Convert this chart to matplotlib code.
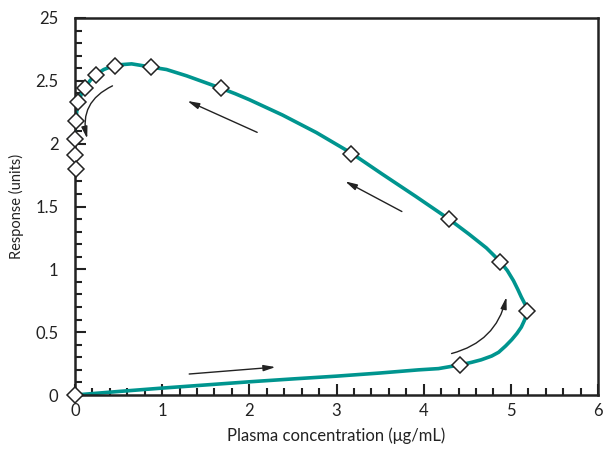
import matplotlib
matplotlib.use("Agg")
import matplotlib.pyplot as plt
from matplotlib.ticker import MultipleLocator

plt.rcParams["font.family"] = ["Lato", "DejaVu Sans"]

# fitted hysteresis loop (counter-clockwise)
curve_x = [0.0, 0.5, 1.0, 1.5, 2.0, 2.5, 3.0, 3.5, 3.94, 4.17, 4.42, 4.55,
           4.66, 4.78, 4.86, 4.94, 5.01, 5.07, 5.12, 5.16, 5.19, 5.18, 5.15,
           5.12, 5.08, 5.03, 4.96, 4.88, 4.72, 4.52, 4.29, 3.91, 3.52, 3.17,
           2.77, 2.38, 2.0, 1.84, 1.68, 1.28, 1.05, 0.87, 0.65, 0.46, 0.33,
           0.24, 0.17, 0.11, 0.07, 0.04, 0.02, 0.01, 0.0]
curve_y = [0.0, 0.028, 0.055, 0.08, 0.105, 0.128, 0.15, 0.175, 0.20, 0.21,
           0.24, 0.26, 0.28, 0.31, 0.34, 0.39, 0.44, 0.49, 0.54, 0.60, 0.67,
           0.70, 0.74, 0.78, 0.84, 0.91, 0.99, 1.06, 1.17, 1.28, 1.40, 1.58,
           1.76, 1.925, 2.088, 2.228, 2.35, 2.397, 2.44, 2.54, 2.59, 2.61,
           2.635, 2.625, 2.59, 2.55, 2.50, 2.44, 2.39, 2.33, 2.26, 2.18, 2.10]

# observed points
obs_x = [0.0, 4.42, 5.19, 4.88, 4.29, 3.17, 1.68, 0.87, 0.46, 0.24, 0.11,
         0.04, 0.01, 0.0, 0.0, 0.01]
obs_y = [0.0, 0.24, 0.67, 1.06, 1.40, 1.92, 2.44, 2.61, 2.62, 2.55, 2.44,
         2.33, 2.18, 2.04, 1.91, 1.80]

# direction arrows: (tail, head, curvature)
arrows = [
    ((1.31, 0.167), (2.30, 0.222), 0.0),
    ((4.32, 0.33), (4.95, 0.78), 0.3),
    ((3.75, 1.46), (3.10, 1.70), 0.0),
    ((2.09, 2.09), (1.29, 2.34), 0.0),
    ((0.43, 2.46), (0.14, 2.04), 0.4),
]

ytick_vals = [0, 0.5, 1, 1.5, 2, 2.5, 3]
ytick_labels = ["0", "0.5", "1", "1.5", "2", "2.5", "25"]

teal = "#00958f"

fig = plt.figure(figsize=(6.05, 4.53), dpi=100)
ax = fig.add_axes([75 / 605, 58 / 453, 523 / 605, 377 / 453])

ax.plot(curve_x, curve_y, color=teal, linewidth=2.6, solid_capstyle="butt",
        solid_joinstyle="round", zorder=2)
ax.plot(obs_x, obs_y, linestyle="none", marker="D", markersize=8.5,
        markerfacecolor="white", markeredgecolor="#222222",
        markeredgewidth=1.1, zorder=3, clip_on=False)

for (tx, ty), (hx, hy), rad in arrows:
    ax.annotate("", xy=(hx, hy), xytext=(tx, ty),
                arrowprops=dict(arrowstyle="-|>,head_length=0.7,head_width=0.18",
                                color="#222222", lw=1.0, shrinkA=0, shrinkB=0,
                                connectionstyle=f"arc3,rad={rad}"))

ax.set_xlim(0, 6)
ax.set_ylim(0, 3)
ax.xaxis.set_major_locator(MultipleLocator(1))
ax.xaxis.set_minor_locator(MultipleLocator(0.2))
ax.yaxis.set_minor_locator(MultipleLocator(0.1))
ax.set_yticks(ytick_vals)
ax.set_yticklabels(ytick_labels)
ax.tick_params(which="both", direction="in", width=1.5, color="#222222",
               labelsize=12, labelcolor="#222222")
ax.tick_params(which="major", length=8)
ax.tick_params(which="minor", length=5)
ax.tick_params(axis="y", pad=12)
ax.tick_params(axis="x", pad=6)
for side in ax.spines.values():
    side.set_linewidth(1.8)
    side.set_color("#222222")

ax.set_xlabel("Plasma concentration (μg/mL)", fontsize=12, color="#222222",
              labelpad=6)
ax.set_ylabel("Response (units)", fontsize=10.5, color="#222222", labelpad=8)

plt.savefig("out.png", dpi=100, facecolor="white")
